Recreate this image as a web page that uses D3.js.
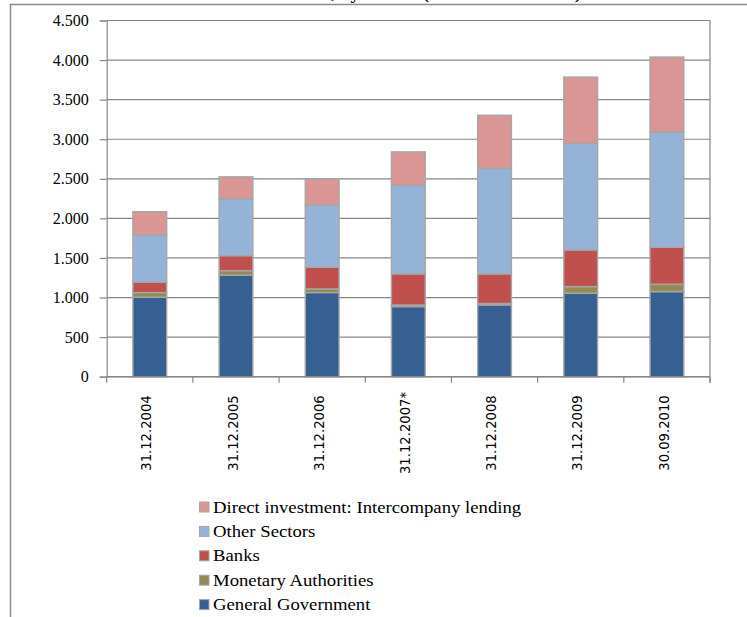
<!DOCTYPE html>
<html>
<head>
<meta charset="utf-8">
<script src="https://cdn.jsdelivr.net/npm/d3@7"></script>
<style>
  html, body { margin: 0; padding: 0; background: #fff; }
  svg { display: block; }
</style>
</head>
<body>
<svg id="chart" width="747" height="617"></svg>
<script>
// Gross external debt by sector, in millions of EUR
const categories = ["31.12.2004", "31.12.2005", "31.12.2006", "31.12.2007*", "31.12.2008", "31.12.2009", "30.09.2010"];
const generalGovernment    = [1005, 1282, 1063, 886, 907, 1055, 1075];
const monetaryAuthorities  = [58, 58, 46, 20, 18, 83, 93];
const banks                = [130, 189, 274, 392, 373, 463, 467];
const otherSectors         = [597, 719, 785, 1122, 1333, 1345, 1457];
const directInvestment     = [294, 277, 328, 420, 672, 839, 946];
const seriesNames = ["General Government", "Monetary Authorities", "Banks", "Other Sectors", "Direct investment: Intercompany lending"];
const seriesColors = ["#376092", "#948a54", "#c0504d", "#95b3d7", "#d99694"];
const yTicks = [0, 500, 1000, 1500, 2000, 2500, 3000, 3500, 4000, 4500];
const titleText = "Gross External Debt, by sectors (in millions of EUR)";

const seriesValues = [generalGovernment, monetaryAuthorities, banks, otherSectors, directInvestment];
const rows = categories.map((c, i) => {
  const r = { category: c };
  seriesNames.forEach((s, k) => { r[s] = seriesValues[k][i]; });
  return r;
});
const stacked = d3.stack().keys(seriesNames)(rows);

const svg = d3.select("#chart");
const serif = "'Liberation Serif', 'DejaVu Serif', serif";
const sans = "'DejaVu Sans', Verdana, sans-serif";

// chart area frame (continues past the right and bottom edges)
svg.append("path")
  .attr("d", "M10.5,617 L10.5,4.5 L747,4.5")
  .attr("fill", "none").attr("stroke", "#8c8c8c").attr("stroke-width", 1.5);

// title, sitting above the top edge of the frame
svg.append("g")
  .attr("transform", "translate(581,-1) scale(1.15,1)")
  .append("text")
  .attr("text-anchor", "end")
  .attr("font-family", serif).attr("font-size", 16).attr("font-weight", "bold")
  .attr("fill", "#000")
  .text(titleText);

const plot = { left: 106.7, right: 710, top: 20.5, bottom: 376.7 };

const x = d3.scaleBand()
  .domain(categories)
  .range([plot.left, plot.right])
  .paddingInner(0.608)
  .paddingOuter(0.304);

const y = d3.scaleLinear().domain([0, 4500]).range([plot.bottom, plot.top]);

const fmt = d3.formatLocale({ decimal: ",", thousands: ".", grouping: [3], currency: ["", ""] }).format(",");

// horizontal gridlines
svg.append("g")
  .selectAll("line")
  .data(yTicks)
  .join("line")
  .attr("x1", plot.left).attr("x2", plot.right)
  .attr("y1", d => y(d)).attr("y2", d => y(d))
  .attr("stroke", "#878787").attr("stroke-width", 1.2);

// right edge of plot area
svg.append("line")
  .attr("x1", plot.right).attr("x2", plot.right)
  .attr("y1", plot.top).attr("y2", plot.bottom + 6)
  .attr("stroke", "#878787").attr("stroke-width", 1.2);

// y axis
const yAxis = svg.append("g")
  .attr("transform", `translate(${plot.left},0)`)
  .call(d3.axisLeft(y).tickValues(yTicks).tickFormat(fmt).tickSize(7).tickPadding(11));
yAxis.select(".domain").attr("stroke", "#878787").attr("stroke-width", 1.2);
yAxis.selectAll(".tick line").attr("stroke", "#878787").attr("stroke-width", 1.2);
yAxis.selectAll(".tick text")
  .attr("font-family", serif).attr("font-size", 16).attr("fill", "#000");

// bars
svg.append("g")
  .selectAll("g")
  .data(stacked)
  .join("g")
  .attr("fill", (d, k) => seriesColors[k])
  .selectAll("rect")
  .data(d => d)
  .join("rect")
  .attr("x", d => x(d.data.category))
  .attr("width", x.bandwidth())
  .attr("y", d => y(d[1]))
  .attr("height", d => y(d[0]) - y(d[1]))
  .attr("stroke", "#a6a6a6").attr("stroke-width", 1.4);

// x axis line and category boundary ticks
const boundaries = categories.map(c => x(c) - x.step() * x.paddingInner() / 2)
  .concat([plot.right]);
boundaries[0] = plot.left;
svg.append("line")
  .attr("x1", plot.left).attr("x2", plot.right)
  .attr("y1", plot.bottom).attr("y2", plot.bottom)
  .attr("stroke", "#878787").attr("stroke-width", 1.5);
svg.append("g")
  .selectAll("line")
  .data(boundaries)
  .join("line")
  .attr("x1", d => d).attr("x2", d => d)
  .attr("y1", plot.bottom).attr("y2", plot.bottom + 6)
  .attr("stroke", "#878787").attr("stroke-width", 1.2);

// rotated category labels
svg.append("g")
  .selectAll("text")
  .data(categories)
  .join("text")
  .attr("transform", d => `translate(${x(d) + x.bandwidth() / 2 - 3},433) rotate(-90)`)
  .attr("text-anchor", "middle")
  .attr("dy", "0.35em")
  .attr("font-family", sans).attr("font-size", 13.2).attr("fill", "#000")
  .text(d => d);

// legend, top item is the top of the stack
const legendOrder = d3.range(seriesNames.length).reverse();
const legend = svg.append("g")
  .selectAll("g")
  .data(legendOrder)
  .join("g")
  .attr("transform", (k, i) => `translate(199,${507 + i * 24.4})`);
legend.append("rect")
  .attr("x", 0.5).attr("y", -5).attr("width", 9.5).attr("height", 10)
  .attr("fill", k => seriesColors[k])
  .attr("stroke", "#a6a6a6").attr("stroke-width", 1);
legend.append("g")
  .attr("transform", "translate(14,0) scale(1.17,1)")
  .append("text")
  .attr("y", 0).attr("dy", "0.35em")
  .attr("font-family", serif).attr("font-size", 16).attr("fill", "#000")
  .text(k => seriesNames[k]);
</script>
</body>
</html>
